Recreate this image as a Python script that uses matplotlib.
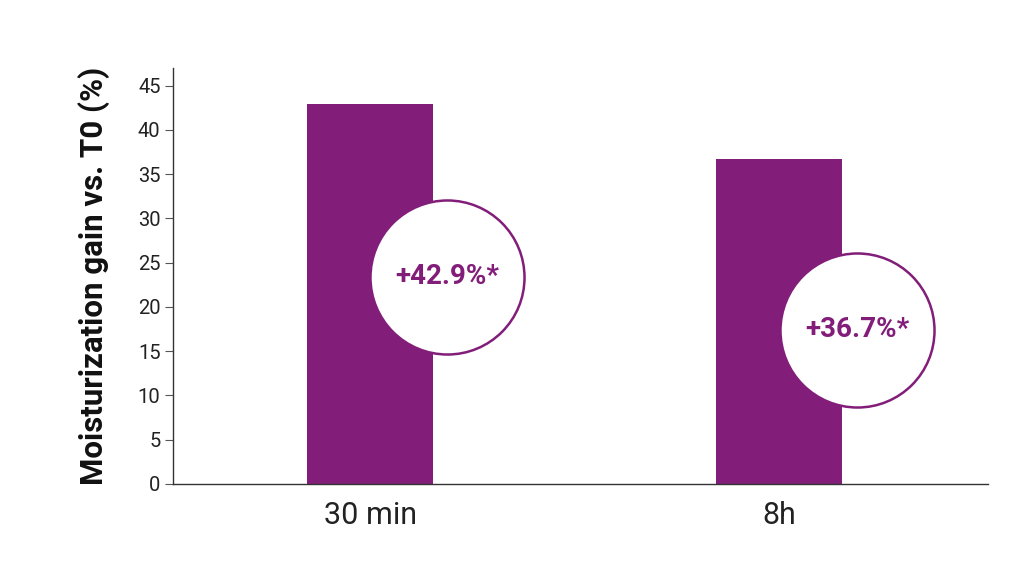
import matplotlib
matplotlib.use("Agg")
import matplotlib.pyplot as plt
import numpy as np

# data
categories = ["30 min", "8h"]
gain_values = [42.9, 36.7]
bubble_labels = ["+42.9%*", "+36.7%*"]
y_ticks = [0, 5, 10, 15, 20, 25, 30, 35, 40, 45]

# bubble placement (data coords, layout only)
bubble_dx = [0.188, 0.190]
bubble_y = [23.4, 17.4]

purple = "#821E79"

plt.rcParams['font.family'] = ['Roboto', 'DejaVu Sans']

fig = plt.figure(figsize=(10.24, 5.65), dpi=100)
ax = fig.add_axes([0.169, 0.1434, 0.796, 0.7362])

x = np.arange(len(categories))
ax.bar(x, gain_values, width=0.308, color=purple, zorder=2)

# circles with the percentage
for xi, dx, by, lab in zip(x, bubble_dx, bubble_y, bubble_labels):
    ax.scatter([xi + dx], [by], s=12300, facecolor="white", edgecolor=purple,
               linewidth=1.8, zorder=3, clip_on=False)
    ax.text(xi + dx, by, lab, ha="center", va="center", color=purple,
            fontsize=20, fontweight="bold", zorder=4)

ax.set_xlim(-0.482, 1.51)
ax.set_ylim(0, 47)
ax.set_xticks(x)
ax.set_xticklabels(categories, fontsize=22, color="#222222")
ax.set_yticks(y_ticks)
ax.set_yticklabels([str(t) for t in y_ticks], fontsize=14.5, color="#222222")
ax.tick_params(axis="x", length=0, pad=12)
ax.tick_params(axis="y", length=6, width=0.8, color="#555555", pad=3)

ax.set_ylabel("Moisturization gain vs. T0 (%)", fontsize=22.5, fontweight="bold",
              color="#111111", labelpad=20)

for side in ["top", "right"]:
    ax.spines[side].set_visible(False)
ax.spines["left"].set_color("#333333")
ax.spines["bottom"].set_color("#333333")
ax.spines["left"].set_linewidth(1.0)
ax.spines["bottom"].set_linewidth(1.0)

fig.savefig("out.png", dpi=100, facecolor="white")
